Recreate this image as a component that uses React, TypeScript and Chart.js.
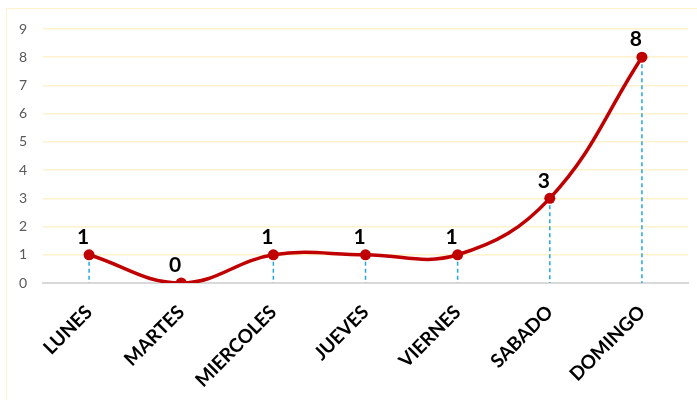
import React, { useEffect, useRef } from "react";
import { Chart, registerables } from "chart.js";

Chart.register(...registerables);

const categories = ["LUNES", "MARTES", "MIERCOLES", "JUEVES", "VIERNES", "SABADO", "DOMINGO"];
const values = [1, 0, 1, 1, 1, 3, 8];
const yMin = 0;
const yMax = 9;
const yStep = 1;

const dropLinesPlugin = {
  id: "dropLines",
  beforeDatasetsDraw(chart: any) {
    const meta = chart.getDatasetMeta(0);
    const yBase = chart.scales.y.getPixelForValue(0);
    const ctx = chart.ctx;
    ctx.save();
    ctx.setLineDash([4, 3]);
    ctx.strokeStyle = "#22a6e6";
    ctx.lineWidth = 1.5;
    meta.data.forEach((p: any) => {
      ctx.beginPath();
      ctx.moveTo(p.x, p.y);
      ctx.lineTo(p.x, yBase);
      ctx.stroke();
    });
    ctx.restore();
  },
};

const dataLabelsPlugin = {
  id: "dataLabels",
  afterDatasetsDraw(chart: any) {
    const meta = chart.getDatasetMeta(0);
    const ctx = chart.ctx;
    ctx.save();
    ctx.font = "bold 21px Lato";
    ctx.fillStyle = "#000000";
    ctx.textAlign = "center";
    ctx.textBaseline = "bottom";
    meta.data.forEach((p: any, i: number) => {
      ctx.fillText(String(values[i]), p.x - 6, p.y - 7);
    });
    ctx.restore();
  },
};

export default function App() {
  const canvasRef = useRef<HTMLCanvasElement | null>(null);

  useEffect(() => {
    if (!canvasRef.current) return;
    const chart = new Chart(canvasRef.current, {
      type: "line",
      data: {
        labels: categories,
        datasets: [
          {
            data: values,
            borderColor: "#c00000",
            backgroundColor: "#c00000",
            borderWidth: 3.5,
            tension: 0.4,
            pointRadius: 5.5,
            pointBackgroundColor: "#c00000",
            pointBorderColor: "#c00000",
            pointBorderWidth: 0,
            fill: false,
          },
        ],
      },
      options: {
        animation: false,
        responsive: true,
        maintainAspectRatio: false,
        layout: { padding: { top: 20, right: 9, left: 0, bottom: 0 } },
        plugins: {
          legend: { display: false },
          tooltip: { enabled: false },
        },
        scales: {
          x: {
            offset: true,
            grid: { display: false, drawTicks: false },
            border: { display: true, color: "#d9d9d9", width: 2 },
            ticks: {
              color: "#000000",
              font: { family: "Lato", size: 19, weight: "bold" },
              minRotation: 45,
              maxRotation: 45,
              padding: 18,
              autoSkip: false,
            },
            afterFit(scale: any) {
              scale.height = 117;
            },
          },
          y: {
            min: yMin,
            max: yMax,
            grid: {
              color: (c: any) => (c.tick && c.tick.value === 0 ? "#d9d9d9" : "#fff2cc"),
              lineWidth: 1.5,
              drawTicks: false,
            },
            border: { display: false },
            ticks: {
              stepSize: yStep,
              color: "#595959",
              font: { family: "Lato", size: 14 },
              padding: 16,
            },
            afterFit(scale: any) {
              scale.width = 36;
              scale.paddingTop = 0;
              scale.paddingBottom = 0;
            },
          },
        },
      },
      plugins: [dropLinesPlugin, dataLabelsPlugin],
    });
    return () => chart.destroy();
  }, []);

  return (
    <div
      style={{
        position: "fixed",
        left: 6,
        top: 8,
        width: 700,
        height: 400,
        borderLeft: "1px solid #fff2cc",
        borderTop: "1px solid #fff2cc",
        background: "#ffffff",
      }}
    >
      <div style={{ position: "absolute", left: 0, top: 0, width: 690, height: 391 }}>
        <canvas ref={canvasRef} />
      </div>
    </div>
  );
}
